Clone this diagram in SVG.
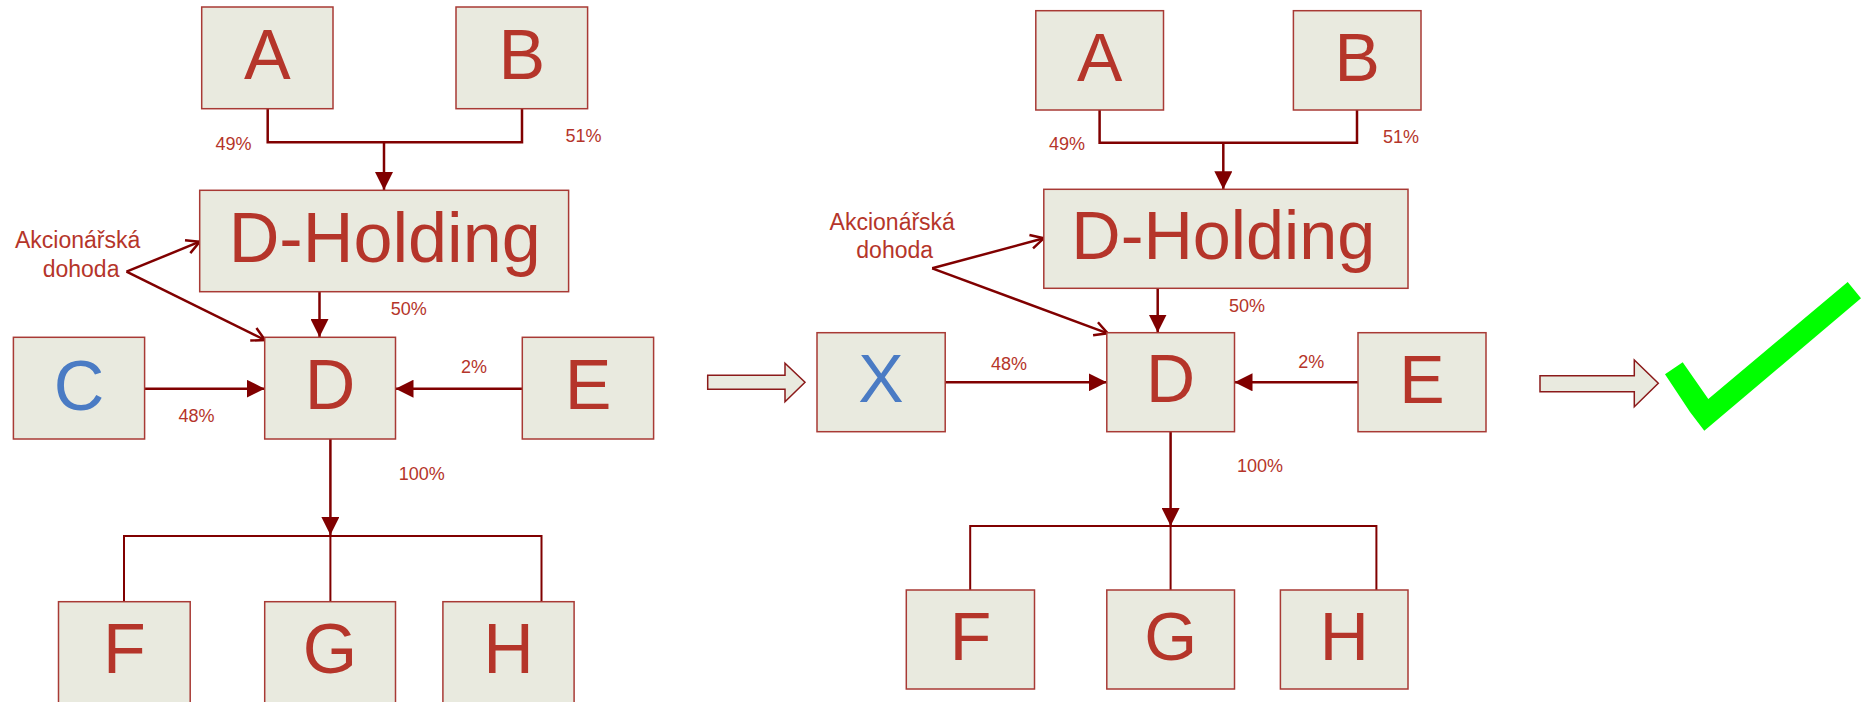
<svg xmlns="http://www.w3.org/2000/svg" width="1865" height="702" viewBox="0 0 1865 702">
<style>
.box{fill:#E9EADF;stroke:#A83A35;stroke-width:1.5}
.lt{font-family:"Liberation Sans",Arial,sans-serif;fill:#B5352A;text-anchor:middle}
.big{font-size:70px}
.big2{font-size:68px}
.blue{fill:#4A7BC4}
.pct{font-family:"Liberation Sans",Arial,sans-serif;fill:#B5352A;font-size:18px}
.ak{font-family:"Liberation Sans",Arial,sans-serif;fill:#B5352A;font-size:23px}
.c{fill:none;stroke:#800000;stroke-width:2.5}
.c2{fill:none;stroke:#800000;stroke-width:2}
.ba{fill:#E9EADF;stroke:#8B1A1A;stroke-width:1.5}
</style>
<defs>
<marker id="tri" markerUnits="userSpaceOnUse" markerWidth="18" markerHeight="18" refX="18" refY="9" orient="auto">
<path d="M0,0 L18,9 L0,18 z" fill="#800000"/>
</marker>
<marker id="open" markerUnits="userSpaceOnUse" markerWidth="18" markerHeight="18" refX="15" refY="9" orient="auto">
<path d="M2,2 L15,9 L2,16" fill="none" stroke="#800000" stroke-width="2.5"/>
</marker>
</defs>

<g id="connectors">
<!-- left -->
<path class="c" d="M267.7,109 V142.3 H522 V109"/>
<path class="c" d="M384,142.3 V190" marker-end="url(#tri)"/>
<path class="c" d="M319.5,292 V337" marker-end="url(#tri)"/>
<path class="c" d="M126.5,271.7 L199.7,241.7" marker-end="url(#open)"/>
<path class="c" d="M126.5,271.7 L265,340" marker-end="url(#open)"/>
<path class="c" d="M144.6,388.7 H264.7" marker-end="url(#tri)"/>
<path class="c" d="M522.3,388.7 H395.5" marker-end="url(#tri)"/>
<path class="c" d="M330.4,439 V535" marker-end="url(#tri)"/>
<path class="c2" d="M124,602 V536 H541.5 V602 M330.4,536 V602"/>
<!-- right -->
<path class="c" d="M1099.6,110 V142.7 H1357 V110"/>
<path class="c" d="M1223.3,142.7 V189.3" marker-end="url(#tri)"/>
<path class="c" d="M1157.7,288.3 V332.5" marker-end="url(#tri)"/>
<path class="c" d="M932.2,268.3 L1043.8,238.3" marker-end="url(#open)"/>
<path class="c" d="M932.2,268.3 L1107.7,333.3" marker-end="url(#open)"/>
<path class="c" d="M945.2,382.3 H1106.8" marker-end="url(#tri)"/>
<path class="c" d="M1358,382.3 H1234.5" marker-end="url(#tri)"/>
<path class="c" d="M1170.6,431.7 V526" marker-end="url(#tri)"/>
<path class="c2" d="M970.2,590 V526 H1376.4 V590 M1170.6,526 V590"/>
</g>

<g id="A"><rect class="box" x="201.7" y="7" width="131.3" height="101.7"/><text class="lt big" x="267.4" y="79">A</text></g>
<g id="B"><rect class="box" x="456" y="7" width="131.6" height="101.7"/><text class="lt big" x="521.8" y="79">B</text></g>
<g id="DHolding"><rect class="box" x="199.7" y="190.3" width="368.9" height="101.4"/><text class="lt" style="font-size:71px" x="384.7" y="261.7" textLength="312" lengthAdjust="spacingAndGlyphs">D-Holding</text></g>
<g id="C"><rect class="box" x="13.4" y="337.3" width="131.2" height="101.7"/><text class="lt big blue" x="79" y="410">C</text></g>
<g id="D"><rect class="box" x="264.7" y="337.3" width="130.8" height="101.7"/><text class="lt big" x="330.1" y="409.3">D</text></g>
<g id="E"><rect class="box" x="522.3" y="337.3" width="131.3" height="101.7"/><text class="lt big" x="588" y="409.3">E</text></g>
<g id="F"><rect class="box" x="58.5" y="601.7" width="131.7" height="102"/><text class="lt big" x="124.3" y="673.3">F</text></g>
<g id="G"><rect class="box" x="264.7" y="601.7" width="130.8" height="102"/><text class="lt big" x="330.1" y="673.3">G</text></g>
<g id="H"><rect class="box" x="442.9" y="601.7" width="131.2" height="102"/><text class="lt big" x="508.5" y="673.3">H</text></g>

<g id="labels-left">
<text class="pct" x="215.5" y="150">49%</text>
<text class="pct" x="565.4" y="142.3">51%</text>
<text class="pct" x="390.7" y="315">50%</text>
<text class="pct" x="178.6" y="421.7">48%</text>
<text class="pct" x="461" y="373.3">2%</text>
<text class="pct" x="398.7" y="480">100%</text>
<text class="ak" x="15" y="248.3">Akcionářská</text>
<text class="ak" x="42.7" y="276.7">dohoda</text>
</g>

<g id="arrow1"><path class="ba" d="M707.7,375.3 H785 V363.3 L805,382.3 L785,401.7 V389.3 H707.7 Z"/></g>

<g id="A2"><rect class="box" x="1035.8" y="10.7" width="127.7" height="99.3"/><text class="lt big2" x="1099.6" y="81">A</text></g>
<g id="B2"><rect class="box" x="1293.4" y="10.7" width="127.6" height="99.3"/><text class="lt big2" x="1357.2" y="81">B</text></g>
<g id="DHolding2"><rect class="box" x="1043.8" y="189.3" width="364.2" height="99"/><text class="lt" style="font-size:68.5px" x="1223.3" y="259" textLength="304" lengthAdjust="spacingAndGlyphs">D-Holding</text></g>
<g id="X"><rect class="box" x="817" y="332.7" width="128.2" height="99"/><text class="lt big2 blue" x="881" y="402.3">X</text></g>
<g id="D2"><rect class="box" x="1106.8" y="332.7" width="127.7" height="99"/><text class="lt big2" x="1170.6" y="402.3">D</text></g>
<g id="E2"><rect class="box" x="1358" y="332.7" width="128" height="99"/><text class="lt big2" x="1422" y="402.7">E</text></g>
<g id="F2"><rect class="box" x="906.3" y="590" width="128.2" height="99"/><text class="lt big2" x="970.4" y="660">F</text></g>
<g id="G2"><rect class="box" x="1106.8" y="590" width="127.7" height="99"/><text class="lt big2" x="1170.6" y="660">G</text></g>
<g id="H2"><rect class="box" x="1280.4" y="590" width="127.6" height="99"/><text class="lt big2" x="1344.2" y="660">H</text></g>

<g id="labels-right">
<text class="pct" x="1049" y="150">49%</text>
<text class="pct" x="1383" y="142.7">51%</text>
<text class="pct" x="1229" y="311.7">50%</text>
<text class="pct" x="991" y="370">48%</text>
<text class="pct" x="1298.3" y="368.3">2%</text>
<text class="pct" x="1237" y="471.7">100%</text>
<text class="ak" x="829.6" y="230">Akcionářská</text>
<text class="ak" x="856.3" y="258.3">dohoda</text>
</g>

<g id="arrow2"><path class="ba" d="M1540,375.7 H1634.3 V360 L1658.3,383.3 L1634.3,406.7 V391.7 H1540 Z"/></g>

<g id="check"><polygon fill="#00FF00" points="1665,374.3 1682.7,362.3 1708.3,399 1847.7,282 1861,298.3 1704.3,430.7 1690,412"/></g>
</svg>
